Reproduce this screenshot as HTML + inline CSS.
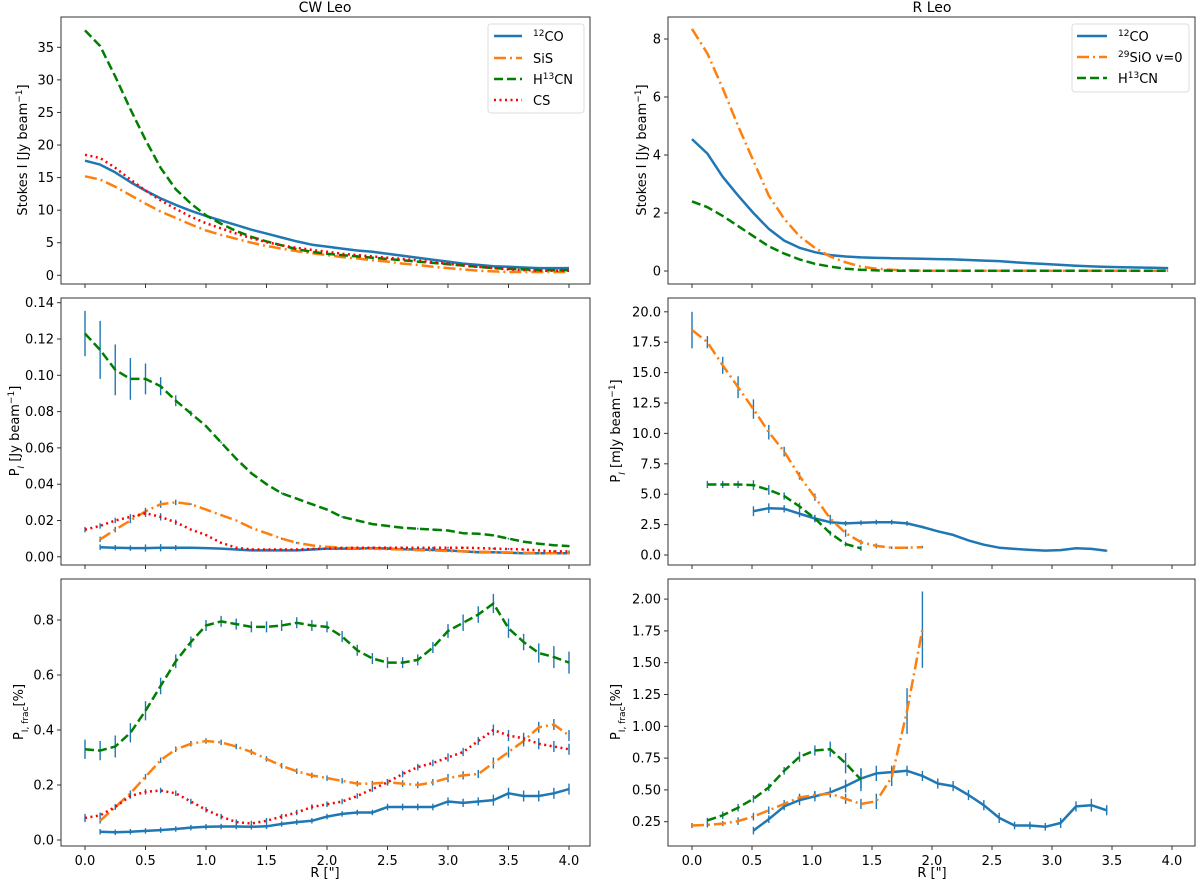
<!DOCTYPE html>
<html><head><meta charset="utf-8"><style>
html,body{margin:0;padding:0;background:#fff;}
svg{display:block;font-family:"DejaVu Sans","Liberation Sans",sans-serif;}
</style></head><body>
<svg id="fig" width="1200" height="884" viewBox="0 0 1200 884" xmlns="http://www.w3.org/2000/svg">
<text x="325" y="12" font-size="14" text-anchor="middle">CW Leo</text>
<text x="932" y="12" font-size="14" text-anchor="middle">R Leo</text>
<text x="325" y="877" font-size="13" text-anchor="middle">R ["]</text>
<text x="932" y="877" font-size="13" text-anchor="middle">R ["]</text>
<g id="layer"></g>
</svg>
<script>
// CW Leo radii (step 0.125)
const cwR = [0,0.125,0.25,0.375,0.5,0.625,0.75,0.875,1,1.125,1.25,1.375,1.5,1.625,1.75,1.875,2,2.125,2.25,2.375,2.5,2.625,2.75,2.875,3,3.125,3.25,3.375,3.5,3.625,3.75,3.875,4];
// R Leo radii (step 0.128)
const rlR = [0,0.128,0.256,0.384,0.512,0.64,0.768,0.896,1.024,1.152,1.28,1.408,1.536,1.664,1.792,1.92,2.048,2.176,2.304,2.432,2.56,2.688,2.816,2.944,3.072,3.2,3.328,3.456,3.584,3.712,3.84,3.968];

// CW Leo Stokes I
const cwI_CO = [17.6,17,15.8,14.3,13,11.8,10.8,9.9,9.1,8.4,7.7,7,6.4,5.8,5.2,4.7,4.4,4.1,3.8,3.6,3.3,3.0,2.7,2.4,2.1,1.8,1.6,1.4,1.3,1.2,1.1,1.1,1.1];
const cwI_SiS = [15.2,14.7,13.6,12.3,11,9.8,8.8,7.8,6.9,6.2,5.6,5.0,4.5,4.1,3.7,3.4,3.1,2.8,2.6,2.3,2.1,1.8,1.6,1.3,1.1,0.9,0.7,0.6,0.5,0.5,0.5,0.5,0.5];
const cwI_HCN = [37.6,35.2,30.5,25.5,20.8,16.5,13.2,11,9.2,7.9,6.8,5.9,5.2,4.6,4.0,3.6,3.3,3.1,2.9,2.7,2.5,2.3,2.1,1.9,1.7,1.5,1.3,1.1,1.0,0.9,0.8,0.8,0.8];
const cwI_CS = [18.5,18,16.5,14.7,13,11.5,10.2,9,8,7.2,6.4,5.7,5.1,4.6,4.2,3.9,3.6,3.3,3.1,2.9,2.7,2.5,2.3,2.0,1.8,1.5,1.3,1.1,0.9,0.8,0.7,0.7,0.7];

// CW Leo P_I (Jy/beam); null = no data
const cwP_HCN = [0.123,0.114,0.103,0.098,0.098,0.094,0.086,0.079,0.072,0.063,0.054,0.046,0.040,0.035,0.032,0.029,0.026,0.022,0.020,0.018,0.017,0.016,0.0155,0.015,0.0145,0.013,0.0127,0.0118,0.010,0.0083,0.0072,0.0064,0.0059];
const cwP_HCN_err = [0.0125,0.016,0.014,0.0115,0.0085,0.005,0.003,0.0015,0.0005,0.0005,0.0005,0.0005,0.0005,0.0005,0.0005,0.0005,0.0005,0.0005,0.0005,0.0005,0.0005,0.0005,0.0005,0.0005,0.0005,0.0005,0.0005,0.0005,0.0005,0.0005,0.0005,0.0005,0.0005];
const cwP_SiS = [null,0.0096,0.015,0.020,0.025,0.029,0.030,0.029,0.026,0.023,0.020,0.016,0.013,0.010,0.0077,0.0063,0.0055,0.005,0.0048,0.0045,0.0042,0.004,0.0037,0.0035,0.0032,0.003,0.0028,0.0026,0.0024,0.0022,0.002,0.002,0.002];
const cwP_CS = [0.015,0.017,0.020,0.022,0.024,0.022,0.019,0.015,0.012,0.0077,0.005,0.004,0.004,0.004,0.004,0.0043,0.0045,0.0048,0.005,0.005,0.005,0.005,0.005,0.005,0.005,0.005,0.0048,0.0045,0.0043,0.004,0.0035,0.003,0.003];
const cwP_CO = [null,0.0053,0.005,0.0048,0.0048,0.005,0.005,0.005,0.0048,0.0045,0.004,0.0035,0.0035,0.0035,0.0035,0.004,0.0045,0.0045,0.0045,0.0048,0.0045,0.0042,0.004,0.0038,0.0035,0.003,0.0025,0.0025,0.0022,0.002,0.002,0.002,0.002];
const cwP_small_err = [0.0015,0.0015,0.0015,0.0015,0.002,0.002,0.0015,0.0005,0.0005,0.0005,0.0005,0.0005,0.0005,0.0005,0.0005,0.0005,0.0005,0.0005,0.0005,0.0005,0.0005,0.0005,0.0005,0.0005,0.0005,0.0005,0.0005,0.0005,0.0005,0.0005,0.0005,0.0005,0.0005];

// CW Leo fractional polarisation (%)
const cwF_HCN = [0.33,0.325,0.34,0.39,0.47,0.56,0.65,0.72,0.78,0.795,0.785,0.775,0.775,0.78,0.79,0.78,0.775,0.74,0.69,0.66,0.645,0.645,0.655,0.70,0.76,0.79,0.82,0.86,0.77,0.72,0.68,0.665,0.645];
const cwF_SiS = [null,0.07,0.12,0.17,0.23,0.29,0.33,0.35,0.36,0.355,0.34,0.32,0.295,0.27,0.25,0.235,0.225,0.215,0.205,0.205,0.21,0.205,0.20,0.21,0.225,0.235,0.24,0.28,0.32,0.36,0.41,0.42,0.38];
const cwF_CS = [0.08,0.09,0.12,0.16,0.175,0.18,0.17,0.14,0.11,0.085,0.065,0.06,0.07,0.085,0.10,0.12,0.13,0.14,0.16,0.185,0.21,0.24,0.265,0.28,0.30,0.32,0.36,0.40,0.38,0.37,0.35,0.34,0.33];
const cwF_CO = [null,0.03,0.028,0.03,0.033,0.036,0.04,0.045,0.048,0.049,0.049,0.048,0.05,0.058,0.065,0.07,0.085,0.095,0.10,0.10,0.12,0.12,0.12,0.12,0.14,0.135,0.14,0.145,0.17,0.16,0.16,0.17,0.185];
const cwF_err = [0.035,0.035,0.04,0.035,0.035,0.03,0.025,0.02,0.02,0.02,0.02,0.02,0.02,0.02,0.02,0.02,0.02,0.02,0.02,0.02,0.02,0.02,0.02,0.02,0.025,0.03,0.03,0.035,0.035,0.03,0.035,0.04,0.04];
const cwF_small_err = [0.015,0.01,0.01,0.01,0.01,0.01,0.01,0.01,0.01,0.01,0.01,0.01,0.01,0.01,0.01,0.01,0.01,0.01,0.01,0.01,0.012,0.012,0.012,0.012,0.015,0.015,0.015,0.02,0.02,0.02,0.02,0.02,0.02];

// R Leo Stokes I
const rlI_CO = [4.55,4.05,3.25,2.6,2.0,1.45,1.05,0.8,0.65,0.55,0.5,0.47,0.45,0.44,0.43,0.42,0.41,0.4,0.38,0.36,0.34,0.3,0.27,0.24,0.21,0.18,0.16,0.14,0.13,0.12,0.11,0.1];
const rlI_SiO = [8.35,7.5,6.3,5.0,3.8,2.6,1.8,1.2,0.8,0.5,0.3,0.15,0.08,0.04,0.02,0.01,0.01,0.01,0.01,0.01,0.01,0.01,0.01,0.01,0.01,0.01,0.01,0.01,0.01,0.01,0.01,0.01];
const rlI_HCN = [2.4,2.2,1.9,1.55,1.2,0.85,0.6,0.4,0.25,0.15,0.08,0.04,0.02,0.01,0.01,0.01,0.01,0.01,0.01,0.01,0.01,0.01,0.01,0.01,0.01,0.01,0.01,0.01,0.01,0.01,0.01,0.01];

// R Leo P_I (mJy/beam)
const rlP_SiO = [18.5,17.5,15.6,13.8,12.0,10.1,8.5,6.5,4.75,3.0,1.8,1.05,0.75,0.6,0.6,0.65];
const rlP_SiO_err = [1.5,0.5,0.7,0.9,0.8,0.6,0.4,0.3,0.3,0.3,0.3,0.2,0.2,0.1,0.1,0.1];
const rlP_HCN = [null,5.8,5.8,5.8,5.75,5.35,4.85,4.0,3.0,1.8,0.9,0.55];
const rlP_CO = [null,null,null,null,3.6,3.85,3.8,3.4,3.0,2.7,2.6,2.65,2.7,2.7,2.6,2.3,1.95,1.65,1.2,0.85,0.6,0.5,0.42,0.36,0.4,0.55,0.5,0.35];
const rlP_small_err = [0.3,0.3,0.3,0.3,0.4,0.4,0.3,0.3,0.3,0.2,0.2,0.2,0.2,0.2,0.2,0.1,0.05,0.05,0.05,0.05,0.05,0.05,0.05,0.05,0.05,0.05,0.05,0.05];

// R Leo fractional polarisation (%)
const rlF_SiO = [0.22,0.225,0.235,0.255,0.29,0.34,0.39,0.44,0.46,0.47,0.43,0.39,0.41,0.60,1.12,1.76];
const rlF_SiO_err = [0.02,0.02,0.02,0.03,0.03,0.03,0.03,0.03,0.03,0.03,0.04,0.04,0.06,0.07,0.18,0.3];
const rlF_HCN = [null,0.26,0.30,0.36,0.43,0.52,0.65,0.76,0.81,0.82,0.71,0.58];
const rlF_HCN_err = [0,0.02,0.03,0.03,0.03,0.03,0.03,0.04,0.04,0.06,0.08,0.09];
const rlF_CO = [null,null,null,null,0.18,0.27,0.37,0.42,0.45,0.48,0.53,0.59,0.63,0.64,0.65,0.61,0.55,0.53,0.46,0.38,0.28,0.22,0.22,0.21,0.24,0.37,0.38,0.34];
const rlF_CO_err = [0,0,0,0,0.03,0.03,0.03,0.04,0.04,0.04,0.05,0.08,0.06,0.05,0.04,0.04,0.04,0.04,0.04,0.04,0.04,0.03,0.03,0.03,0.04,0.04,0.05,0.04];

const cwYTicks = [[0,5,10,15,20,25,30,35],[0,0.02,0.04,0.06,0.08,0.10,0.12,0.14],[0,0.2,0.4,0.6,0.8]];
const cwYLabels = [["0","5","10","15","20","25","30","35"],["0.00","0.02","0.04","0.06","0.08","0.10","0.12","0.14"],["0.0","0.2","0.4","0.6","0.8"]];
const rlYTicks = [[0,2,4,6,8],[0,2.5,5,7.5,10,12.5,15,17.5,20],[0.25,0.5,0.75,1,1.25,1.5,1.75,2]];
const rlYLabels = [["0","2","4","6","8"],["0.0","2.5","5.0","7.5","10.0","12.5","15.0","17.5","20.0"],["0.25","0.50","0.75","1.00","1.25","1.50","1.75","2.00"]];
const xTicks = [0,0.5,1,1.5,2,2.5,3,3.5,4];
const xLabels = ["0.0","0.5","1.0","1.5","2.0","2.5","3.0","3.5","4.0"];

const NS = "http://www.w3.org/2000/svg";
const layer = document.getElementById("layer");
const C_BLUE="#1f77b4", C_OR="#ff7f0e", C_GR="#007f00", C_RED="#ff0000";
const STY = {solid:null, dashdot:"12,4,2,4", dashed:"9,4", dotted:"2,3.5"};

function mk(tag, attrs, parent){const e=document.createElementNS(NS,tag);for(const k in attrs)e.setAttribute(k,attrs[k]);(parent||layer).appendChild(e);return e;}

function makeAxes(name, x0, x1, y0, y1, xa, xk, ya, yk){
  return {name, x0,x1,y0,y1, X:v=>xa+xk*v, Y:v=>ya-yk*v};
}
const panels = {
  tl: makeAxes("cw-stokes-i",61,590,17,284,85,121,275.3,6.514),
  ml: makeAxes("cw-pol-intensity",61,590,298,565,85,121,556.8,1815),
  bl: makeAxes("cw-pol-fraction",61,590,579,846,85,121,840,275),
  tr: makeAxes("rleo-stokes-i",668,1195,17,284,692,120,271,29),
  mr: makeAxes("rleo-pol-intensity",668,1195,298,565,692,120,555,12.16),
  br: makeAxes("rleo-pol-fraction",668,1195,579,846,692,120,853.5,127.2)
};

function drawFrame(p, yt, yl, showX){
  const g = mk("g",{});
  
  
  const r = mk("rect",{x:p.x0,y:p.y0,width:p.x1-p.x0,height:p.y1-p.y0,fill:"none",stroke:"#333","stroke-width":1},g);
  
  
  xTicks.forEach((v,i)=>{
    const x=p.X(v);
    const t=mk("line",{x1:x,x2:x,y1:p.y1,y2:p.y1+4,stroke:"#333"},g);
    
    
    if(showX){
      const tx=mk("text",{x:x,y:p.y1+19,"font-size":13,"text-anchor":"middle"},g);
      
      
      tx.textContent=xLabels[i];
    }
  });
  yt.forEach((v,i)=>{
    const y=p.Y(v);
    const t=mk("line",{x1:p.x0-4,x2:p.x0,y1:y,y2:y,stroke:"#333"},g);
    
    
    const tx=mk("text",{x:p.x0-7,y:y+4.5,"font-size":13,"text-anchor":"end"},g);
    
    
    tx.textContent=yl[i];
  });
}

function series(p, xs, ys, color, style, name, errs){
  const pts=[];
  ys.forEach((v,i)=>{ if(v!==null && v!==undefined && i<xs.length) pts.push([p.X(xs[i]),p.Y(v),i]); });
  if(errs){
    pts.forEach(q=>{
      const e=errs[q[2]]; if(!e) return;
      const l=mk("line",{x1:q[0],x2:q[0],y1:p.Y(ys[q[2]]+e),y2:p.Y(ys[q[2]]-e),stroke:C_BLUE,"stroke-width":1.4});
      
      
    });
  }
  const d=pts.map((q,i)=>(i?"L":"M")+q[0].toFixed(1)+","+q[1].toFixed(1)).join("");
  const a={d:d,fill:"none",stroke:color,"stroke-width":2.5,"stroke-linejoin":"round"};
  if(STY[style]) a["stroke-dasharray"]=STY[style];
  const path=mk("path",a);
  
  
}

drawFrame(panels.tl,cwYTicks[0],cwYLabels[0],false);
drawFrame(panels.ml,cwYTicks[1],cwYLabels[1],false);
drawFrame(panels.bl,cwYTicks[2],cwYLabels[2],true);
drawFrame(panels.tr,rlYTicks[0],rlYLabels[0],false);
drawFrame(panels.mr,rlYTicks[1],rlYLabels[1],false);
drawFrame(panels.br,rlYTicks[2],rlYLabels[2],true);

// CW Leo
series(panels.tl,cwR,cwI_CO,C_BLUE,"solid","cw-i-12co");
series(panels.tl,cwR,cwI_SiS,C_OR,"dashdot","cw-i-sis");
series(panels.tl,cwR,cwI_HCN,C_GR,"dashed","cw-i-h13cn");
series(panels.tl,cwR,cwI_CS,C_RED,"dotted","cw-i-cs");

series(panels.ml,cwR,cwP_CO,C_BLUE,"solid","cw-p-12co",cwP_small_err);
series(panels.ml,cwR,cwP_SiS,C_OR,"dashdot","cw-p-sis",cwP_small_err);
series(panels.ml,cwR,cwP_HCN,C_GR,"dashed","cw-p-h13cn",cwP_HCN_err);
series(panels.ml,cwR,cwP_CS,C_RED,"dotted","cw-p-cs",cwP_small_err);

series(panels.bl,cwR,cwF_CO,C_BLUE,"solid","cw-f-12co",cwF_small_err);
series(panels.bl,cwR,cwF_SiS,C_OR,"dashdot","cw-f-sis",cwF_small_err);
series(panels.bl,cwR,cwF_HCN,C_GR,"dashed","cw-f-h13cn",cwF_err);
series(panels.bl,cwR,cwF_CS,C_RED,"dotted","cw-f-cs",cwF_small_err);

// R Leo
series(panels.tr,rlR,rlI_CO,C_BLUE,"solid","rleo-i-12co");
series(panels.tr,rlR,rlI_SiO,C_OR,"dashdot","rleo-i-29sio");
series(panels.tr,rlR,rlI_HCN,C_GR,"dashed","rleo-i-h13cn");

series(panels.mr,rlR,rlP_CO,C_BLUE,"solid","rleo-p-12co",rlP_small_err);
series(panels.mr,rlR,rlP_SiO,C_OR,"dashdot","rleo-p-29sio",rlP_SiO_err);
series(panels.mr,rlR,rlP_HCN,C_GR,"dashed","rleo-p-h13cn",rlP_small_err);

series(panels.br,rlR,rlF_CO,C_BLUE,"solid","rleo-f-12co",rlF_CO_err);
series(panels.br,rlR,rlF_SiO,C_OR,"dashdot","rleo-f-29sio",rlF_SiO_err);
series(panels.br,rlR,rlF_HCN,C_GR,"dashed","rleo-f-h13cn",rlF_HCN_err);
</script>

<svg style="position:absolute;left:0;top:0" width="1200" height="884" xmlns="http://www.w3.org/2000/svg" font-family="DejaVu Sans, Liberation Sans, sans-serif">
  <text transform="translate(27,150) rotate(-90)" font-size="13" text-anchor="middle">Stokes I [Jy beam<tspan baseline-shift="super" font-size="9">−1</tspan>]</text>
  <text transform="translate(19,431) rotate(-90)" font-size="13" text-anchor="middle">P<tspan baseline-shift="sub" font-size="9" font-style="italic">I</tspan> [Jy beam<tspan baseline-shift="super" font-size="9">−1</tspan>]</text>
  <text transform="translate(23,712) rotate(-90)" font-size="13" text-anchor="middle">P<tspan baseline-shift="sub" font-size="9">I, frac</tspan>[%]</text>
  <text transform="translate(646,150) rotate(-90)" font-size="13" text-anchor="middle">Stokes I [Jy beam<tspan baseline-shift="super" font-size="9">−1</tspan>]</text>
  <text transform="translate(620,431) rotate(-90)" font-size="13" text-anchor="middle">P<tspan baseline-shift="sub" font-size="9" font-style="italic">I</tspan> [mJy beam<tspan baseline-shift="super" font-size="9">−1</tspan>]</text>
  <text transform="translate(620,712) rotate(-90)" font-size="13" text-anchor="middle">P<tspan baseline-shift="sub" font-size="9">I, frac</tspan>[%]</text>

  <g>
    <rect x="488" y="24" width="96" height="89" rx="3" fill="#fff" fill-opacity="0.85" stroke="#ddd"/>
    <line x1="494" x2="522" y1="36" y2="36" stroke="#1f77b4" stroke-width="2.5"/>
    <text x="533" y="41" font-size="13"><tspan baseline-shift="super" font-size="9">12</tspan>CO</text>
    <line x1="494" x2="522" y1="58" y2="58" stroke="#ff7f0e" stroke-width="2.5" stroke-dasharray="12,4,2,4"/>
    <text x="533" y="63" font-size="13">SiS</text>
    <line x1="494" x2="522" y1="79" y2="79" stroke="#007f00" stroke-width="2.5" stroke-dasharray="9,4"/>
    <text x="533" y="84" font-size="13">H<tspan baseline-shift="super" font-size="9">13</tspan>CN</text>
    <line x1="494" x2="522" y1="100" y2="100" stroke="#ff0000" stroke-width="2.5" stroke-dasharray="2,3.5"/>
    <text x="533" y="105" font-size="13">CS</text>
  </g>
  <g>
    <rect x="1072" y="24" width="117" height="68" rx="3" fill="#fff" fill-opacity="0.85" stroke="#ddd"/>
    <line x1="1077" x2="1107" y1="36" y2="36" stroke="#1f77b4" stroke-width="2.5"/>
    <text x="1118" y="41" font-size="13"><tspan baseline-shift="super" font-size="9">12</tspan>CO</text>
    <line x1="1077" x2="1107" y1="57" y2="57" stroke="#ff7f0e" stroke-width="2.5" stroke-dasharray="12,4,2,4"/>
    <text x="1118" y="62" font-size="13"><tspan baseline-shift="super" font-size="9">29</tspan>SiO v=0</text>
    <line x1="1077" x2="1107" y1="78" y2="78" stroke="#007f00" stroke-width="2.5" stroke-dasharray="9,4"/>
    <text x="1118" y="83" font-size="13">H<tspan baseline-shift="super" font-size="9">13</tspan>CN</text>
  </g>
</svg>
</body></html>
